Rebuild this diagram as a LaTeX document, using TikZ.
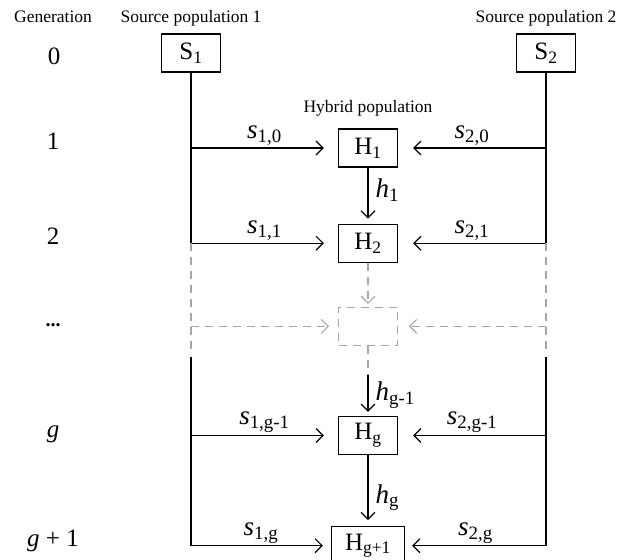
\documentclass[tikz,border=0pt]{standalone}
\usepackage{amsmath}
\usepackage{fontspec}
\setmainfont{Liberation Serif}
\usetikzlibrary{arrows.meta,positioning,calc}

\newcommand{\pop}[2]{$\text{#1}_{\text{#2}}$}
\newcommand{\rate}[2]{$\textit{#1}_{\text{#2}}$}

\begin{document}
\begin{tikzpicture}[
  x=1pt,y=1pt,
  big/.style={font=\fontsize{25}{30}\selectfont},
  lab/.style={font=\fontsize{17.5}{21}\selectfont,inner sep=0pt},
  pop/.style={big,rectangle,draw,line width=1.2pt,minimum width=59pt,minimum height=38pt,inner sep=0pt},
  gen/.style={big,anchor=base,inner sep=0pt},
  rt/.style={font=\fontsize{27}{32}\selectfont,inner sep=0pt},
  arr/.style={line width=1.2pt,-{Straight Barb[length=7pt,width=14pt]}},
  dline/.style={line width=1.1pt,gray!70,dash pattern=on 8pt off 6pt},
  darr/.style={dline,-{Straight Barb[length=7pt,width=14pt]}}
]
\useasboundingbox (0,0) rectangle (631,-559);

\node[pop] (s1) at (191,-53) {\pop{S}{1}};
\node[pop] (s2) at (546,-53) {\pop{S}{2}};
\node[lab,above=7pt of s1] (src1) {Source population 1};
\node[lab,above=7pt of s2] (src2) {Source population 2};
\node[lab,anchor=base] (gen) at (53,-23) {Generation};

\node[pop] (h1) at (368,-148) {\pop{H}{1}};
\node[lab,above=12pt of h1] (hyb) {Hybrid population};
\node[pop,below=56pt of h1] (h2) {\pop{H}{2}};
\node[pop,draw=gray!70,dash pattern=on 8pt off 6pt,line width=1.1pt,below=44pt of h2] (hd) {};
\node[pop,below=70pt of hd] (hg) {\pop{H}{g}};
\node[pop,minimum width=73pt,below=71pt of hg] (hn) {\pop{H}{g+1}};

% generation numbers
\node[gen] (n0) at (54,-65) {0};
\node[gen,yshift=-1.5pt] (n1) at (gen |- h1) {1};
\node[gen,yshift=-1.5pt] (n2) at (gen |- h2) {2};
\node[gen,font=\fontsize{20}{24}\selectfont\bfseries] (nd) at (gen |- hd) {...};
\node[gen,yshift=-1.5pt] (ng) at (gen |- hg) {\textit{g}};
\node[gen,yshift=-1pt] (nn) at (gen |- hn) {\textit{g} + 1};

% source 1
\draw[arr,shorten >=14pt] (s1|-h1) -- node[rt,above=2pt]{\rate{s}{1,0}} (h1.west);
\draw[arr,shorten >=14pt] (s1.south) |- node[rt,pos=.75,above=2pt]{\rate{s}{1,1}} (h2.west);
\draw[dline] (s1|-h2) -- ($(s1|-hd)+(0,-25)$);
\draw[darr,shorten >=9pt] (s1|-hd) -- (hd.west);
\draw[arr,shorten >=14pt] (s1|-hg) -- node[rt,above=2pt]{\rate{s}{1,g-1}} (hg.west);
\draw[arr,shorten >=8pt] ($(s1|-hd)+(0,-31)$) |- node[rt,pos=.75,above=2pt]{\rate{s}{1,g}} (hn.west);

% source 2
\draw[arr,shorten >=15pt] (s2|-h1) -- node[rt,above=2pt]{\rate{s}{2,0}} (h1.east);
\draw[arr,shorten >=15pt] (s2.south) |- node[rt,pos=.75,above=2pt]{\rate{s}{2,1}} (h2.east);
\draw[dline] (s2|-h2) -- ($(s2|-hd)+(0,-25)$);
\draw[darr,shorten >=11pt] (s2|-hd) -- (hd.east);
\draw[arr,shorten >=15pt] (s2|-hg) -- node[rt,above=2pt]{\rate{s}{2,g-1}} (hg.east);
\draw[arr,shorten >=7pt] ($(s2|-hd)+(0,-31)$) |- node[rt,pos=.75,above=2pt]{\rate{s}{2,g}} (hn.east);

% hybrid line
\coordinate (brk) at ($(hd.south)+(0,-29)$);
\draw[arr,shorten >=5pt] (h1) -- node[rt,pos=.4,right=7pt]{\rate{h}{1}} (h2);
\draw[darr,shorten >=3pt] (h2) -- (hd);
\draw[dline] (hd.south) -- (brk);
\draw[arr,shorten >=4pt] (brk) -- node[rt,right=7pt]{\rate{h}{g-1}} (hg);
\draw[arr,shorten >=6pt] (hg) -- node[rt,pos=.6,right=7pt]{\rate{h}{g}} (hn);
\end{tikzpicture}
\end{document}
